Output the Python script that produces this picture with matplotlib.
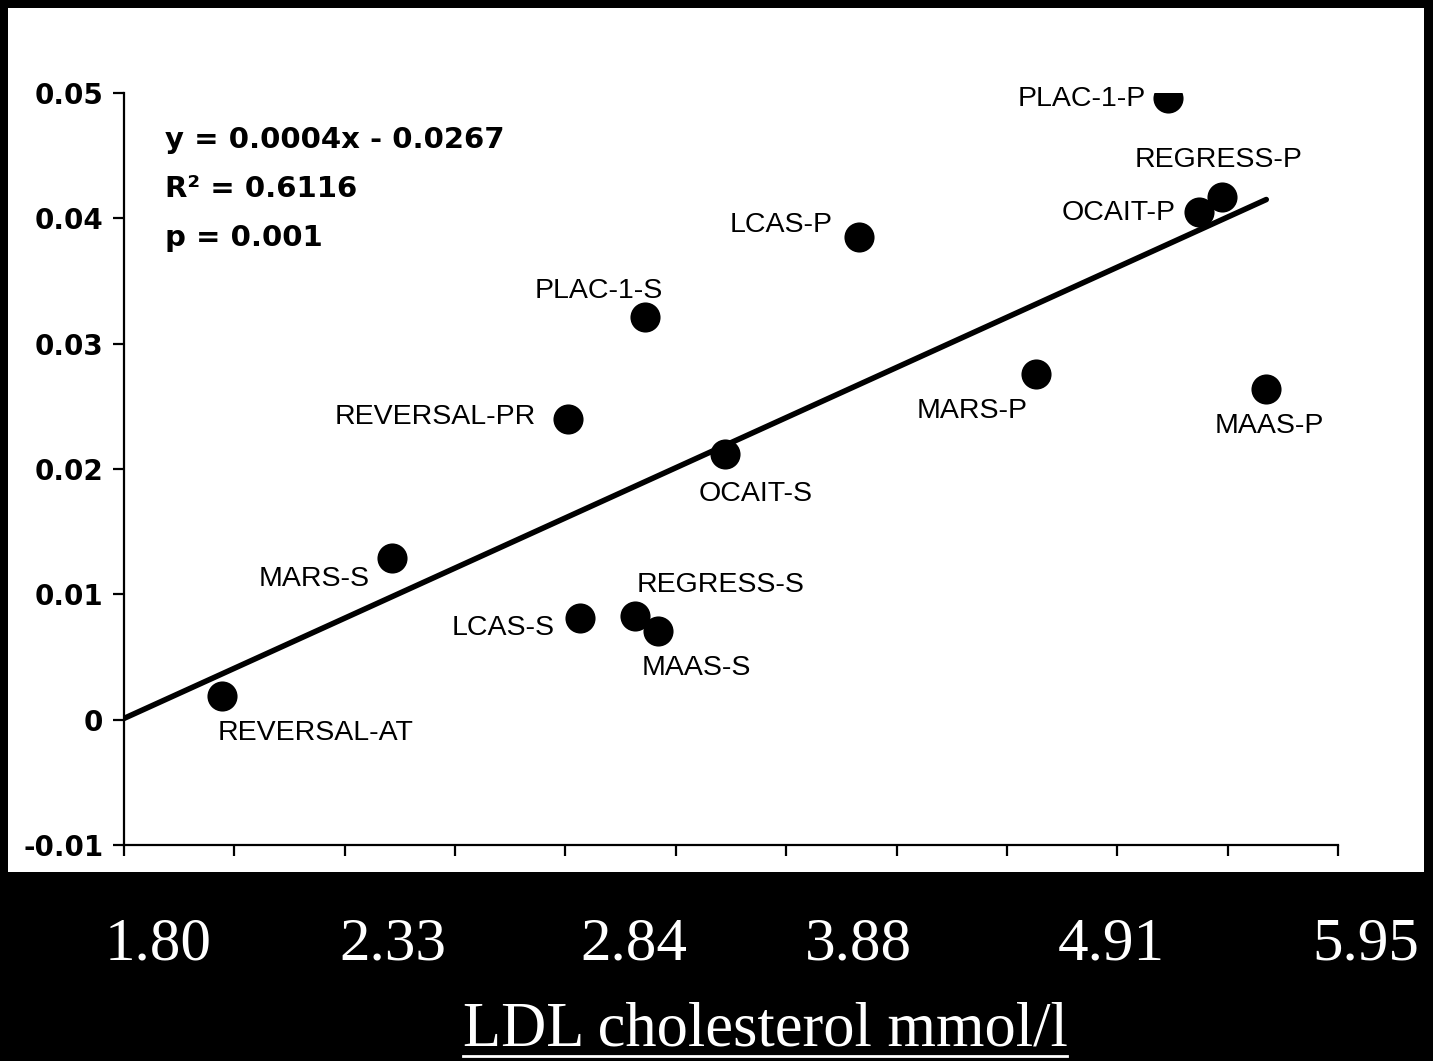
import numpy as np
import matplotlib
matplotlib.use("Agg")
import matplotlib.pyplot as plt
from matplotlib.lines import Line2D

# trial arms (LDL in mg/dl on the original axis, progression rate on y)
trials = ["REVERSAL-AT", "MARS-S", "LCAS-S", "REGRESS-S", "MAAS-S",
          "REVERSAL-PR", "PLAC-1-S", "OCAIT-S", "LCAS-P", "MARS-P",
          "PLAC-1-P", "OCAIT-P", "REGRESS-P", "MAAS-P"]
ldl = [75.9, 91.3, 108.3, 113.3, 115.4, 107.2, 114.2, 121.5, 133.6, 149.6,
       161.6, 164.4, 166.5, 170.5]
rate = [0.0019, 0.0129, 0.0081, 0.0083, 0.0071, 0.0240, 0.0321, 0.0212,
        0.0385, 0.0276, 0.0496, 0.0405, 0.0417, 0.0264]

slope = 0.0004
intercept = -0.0267
r2 = 0.6116
pval = 0.001

mmol_labels = ["1.80", "2.33", "2.84", "3.88", "4.91", "5.95"]
xlabel = "LDL cholesterol mmol/l"

# label placement: offset in points, horizontal alignment
lab_off = {
    "REVERSAL-AT": (-3, -27, "left"),
    "MARS-S": (-16, -15, "right"),
    "LCAS-S": (-18, -7, "right"),
    "REGRESS-S": (1, 22, "left"),
    "MAAS-S": (-12, -27, "left"),
    "REVERSAL-PR": (-23, 1, "right"),
    "PLAC-1-S": (13, 19, "right"),
    "OCAIT-S": (-19, -29, "left"),
    "LCAS-P": (-19, 9, "right"),
    "MARS-P": (-6, -27, "right"),
    "PLAC-1-P": (-16, -1, "right"),
    "OCAIT-P": (-17, -1, "right"),
    "REGRESS-P": (-63, 27, "left"),
    "MAAS-P": (-37, -27, "left"),
}

W, H = 1433, 1061
fig = plt.figure(figsize=(W / 100, H / 100), dpi=100, facecolor="black")

# white scanned panel (behind the axes)
bg = fig.add_axes([8 / W, 1 - 872 / H, (1424 - 8) / W, (872 - 8) / H], zorder=-5)
bg.set_facecolor("white")
bg.set_xticks([])
bg.set_yticks([])
for s in bg.spines.values():
    s.set_visible(False)

ax = fig.add_axes([124 / W, 1 - 845 / H, (1338 - 124) / W, (845 - 93) / H])
ax.set_facecolor("none")

xmin, xmax = 67, 177
ax.set_xlim(xmin, xmax)
ax.set_ylim(-0.01, 0.05)

fx = np.array([xmin, max(ldl)])
ax.plot(fx, slope * fx + intercept, color="black", lw=4, solid_capstyle="round", zorder=2)
ax.scatter(ldl, rate, s=470, color="black", zorder=3, linewidths=0)

for name, x, y in zip(trials, ldl, rate):
    dx, dy, ha = lab_off[name]
    ax.annotate(name, (x, y), xytext=(dx, dy), textcoords="offset points",
                ha=ha, va="center", fontsize=20.5, family="Liberation Sans",
                color="black")

ax.text(0.034, 0.872,
        "y = %.4fx - %.4f\nR\u00b2 = %.4f\np = %.3f" % (slope, -intercept, r2, pval),
        transform=ax.transAxes, ha="left", va="center", fontsize=21,
        fontweight="bold", family="DejaVu Sans", linespacing=1.95)

for s in ["top", "right"]:
    ax.spines[s].set_visible(False)
for s in ["left", "bottom"]:
    ax.spines[s].set_linewidth(1.6)

ax.set_yticks(np.arange(-0.01, 0.051, 0.01))
ax.set_yticklabels(["-0.01", "0", "0.01", "0.02", "0.03", "0.04", "0.05"],
                   fontsize=20, fontweight="bold", family="DejaVu Sans")
ax.set_xticks(np.arange(xmin, xmax + 1, 10))
ax.set_xticklabels([])
ax.tick_params(axis="y", direction="out", length=8, width=1.6, pad=7)
ax.tick_params(axis="x", direction="out", length=8, width=1.6)

# white serif mmol/l labels in the black strip below
mmol_x = [158, 393, 634, 858, 1111, 1366]
for lab, px in zip(mmol_labels, mmol_x):
    fig.text(px / W, 1 - 945 / H, lab, ha="center", va="center", color="white",
             fontsize=44, family="Liberation Serif")

t = fig.text(765 / W, 1 - 1030 / H, xlabel, ha="center", va="center", color="white",
             fontsize=45, family="Liberation Serif")
fig.canvas.draw()
bb = t.get_window_extent().transformed(fig.transFigure.inverted())
fig.add_artist(Line2D([bb.x0, bb.x1], [1 - 1056 / H] * 2, color="white", lw=2,
                      transform=fig.transFigure))

fig.savefig("out.png", dpi=100, facecolor="black")
